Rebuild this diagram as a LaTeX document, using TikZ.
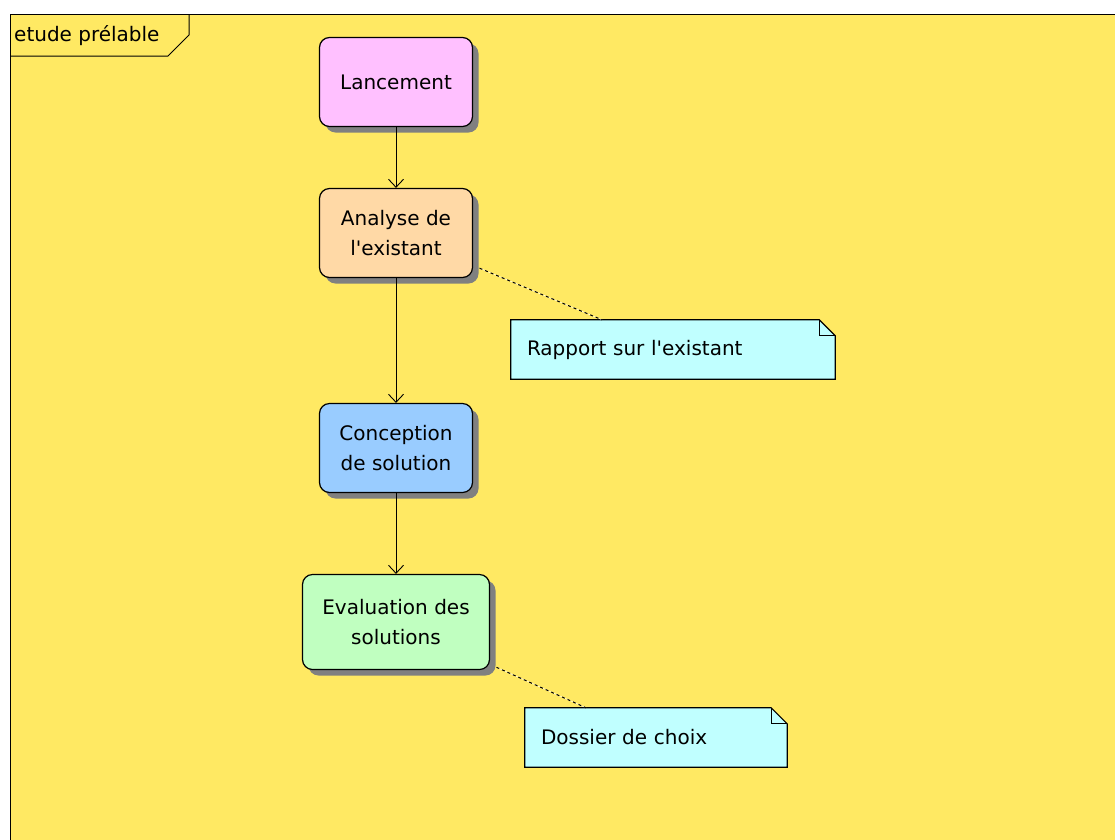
\documentclass[tikz,border=0pt]{standalone}
\usepackage{fontspec}
\setmainfont{DejaVu Sans}
\usetikzlibrary{arrows.meta,shadows}

\definecolor{framebg}{HTML}{FFE963}
\definecolor{launchpink}{HTML}{FFC0FF}
\definecolor{analyseorange}{HTML}{FFD9A6}
\definecolor{conceptblue}{HTML}{99CCFF}
\definecolor{evalgreen}{HTML}{C0FFC0}
\definecolor{notecyan}{HTML}{C0FFFF}
\definecolor{boxshadow}{HTML}{808080}

\tikzset{
  activity/.style={draw, rounded corners=10pt, line width=1.2pt,
    minimum width=153pt, minimum height=89pt, align=center,
    font=\fontsize{20}{30}\selectfont,
    drop shadow={shadow xshift=6pt, shadow yshift=-6pt, fill=boxshadow, opacity=1}},
  artefact/.style={fill=notecyan, text width=#1, inner xsep=16pt,
    minimum height=59pt, align=left, font=\fontsize{20}{24}\selectfont},
  flow/.style={-{Straight Barb[length=8pt,width=15pt]}, line width=0.9pt},
  link/.style={dash pattern=on 3pt off 3pt, line width=1pt,
    preaction={draw=white, solid}}
}

\begin{document}
\begin{tikzpicture}[x=1pt, y=-1pt]
	\useasboundingbox (0,0) rectangle (1115,839);
	\fill[white] (0,0) rectangle (1115,839);
	% frame
	\fill[framebg] (10,14) rectangle (1125,850);
	\draw[line width=1pt] (10,850) -- (10,14) -- (1125,14);
	\draw[line width=1pt] (10,56) -- (168,56) -- (189,35) -- (189,14);
	\node (frame)[anchor=west, inner sep=0pt, font=\fontsize{20}{24}\selectfont] at (14,36) {etude prélable};

	% activities
	\node (launch)[activity, fill=launchpink] at (396,82) {Lancement};
	\node (analyse)[activity, fill=analyseorange] at (396,233) {Analyse de\\l\textquotesingle existant};
	\node (conception)[activity, fill=conceptblue] at (396,448) {Conception\\de solution};
	\node (evaluation)[activity, fill=evalgreen, minimum width=187pt, minimum height=95pt] at (396,622) {Evaluation des\\solutions};

	% artefacts
	\node (rapport)[artefact=292pt] at (673,349.5) {Rapport sur l\textquotesingle existant};
	\node (dossier)[artefact=230pt] at (656,737.5) {Dossier de choix};
	\foreach \n in {rapport,dossier} {
		\fill[framebg] ([xshift=-16pt]\n.north east) -- (\n.north east) -- ([yshift=-16pt]\n.north east) -- cycle;
		\draw[line width=1.2pt] (\n.north west) -- ([xshift=-16pt]\n.north east) -- ([yshift=-16pt]\n.north east) -- (\n.south east) -- (\n.south west) -- cycle;
		\draw[line width=1pt] ([xshift=-16pt]\n.north east) |- ([yshift=-16pt]\n.north east);
	}

	% control flow
	\draw[flow] (launch.south) -- (analyse.north);
	\draw[flow] (analyse.south) -- (conception.north);
	\draw[flow] (conception.south) -- (evaluation.north);

	% object links
	\draw[link, shorten <=7pt] (analyse) -- ([xshift=-71pt]rapport.north);
	\draw[link, shorten <=7pt] (evaluation) -- ([xshift=-70pt]dossier.north);
\end{tikzpicture}
\end{document}
